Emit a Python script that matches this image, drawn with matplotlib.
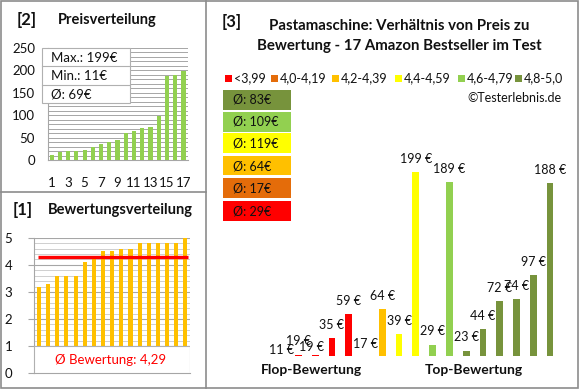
import numpy as np
import matplotlib.pyplot as plt
from matplotlib.patches import Rectangle
from matplotlib.lines import Line2D

plt.rcParams['font.family'] = ['Lato', 'DejaVu Sans']

# data
prices_sorted = [11, 17, 19, 19, 23, 29, 35, 39, 44, 59, 64, 72, 74, 97, 188, 189, 199]
ratings_sorted = [3.2, 3.3, 3.6, 3.6, 3.6, 4.1, 4.2, 4.5, 4.5, 4.6, 4.6, 4.8, 4.8, 4.8, 4.8, 4.8, 5.0]
avg_rating = 4.29
price_stats = ["Max.: 199€", "Min.: 11€", "Ø: 69€"]

# panel 3: products ordered by rating group
group_prices = [11, 19, 19, 35, 59, 17, 64, 39, 199, 29, 189, 23, 44, 72, 74, 97, 188]
group_index = [0, 0, 0, 0, 0, 1, 2, 3, 3, 4, 4, 5, 5, 5, 5, 5, 5]
group_names = ["<3,99", "4,0-4,19", "4,2-4,39", "4,4-4,59", "4,6-4,79", "4,8-5,0"]
group_avgs = [29, 17, 64, 119, 109, 83]

group_colors = ["#FF0000", "#E46C0A", "#FFC000", "#FFFF00", "#92D050", "#77933C"]
green = "#92D050"
orange = "#FFC000"
frame = "#8C8C8C"
ink = "#111111"

W, H = 580, 390
fig = plt.figure(figsize=(5.8, 3.9), dpi=100)


def fx(x):
    return x / W


def fy(y):
    return 1 - y / H


def ax_px(left, top, right, bottom):
    return fig.add_axes([fx(left), fy(bottom), (right - left) / W, (bottom - top) / H])


def ftext(x, y, s, **kw):
    kw.setdefault('color', ink)
    fig.text(fx(x), fy(y), s, **kw)


# panel frames
fig.add_artist(Rectangle((fx(1), fy(388)), 577 / W, 387 / H, transform=fig.transFigure,
                         fill=False, ec=frame, lw=1.2))
fig.add_artist(Line2D([fx(205.5), fx(205.5)], [fy(1), fy(388)], transform=fig.transFigure, color=frame, lw=1.2))
fig.add_artist(Line2D([fx(1), fx(205.5)], [fy(192), fy(192)], transform=fig.transFigure, color=frame, lw=1.2))

# ---------------- [2] Preisverteilung ----------------
ftext(27, 20, "[2]", fontsize=12, fontweight='bold', ha='center', va='center')
ftext(58, 20, "Preisverteilung", fontsize=10.5, fontweight='bold', ha='left', va='center')

ax2 = ax_px(47.5, 47.7, 187.6, 160)
n = len(prices_sorted)
xs = np.arange(1, n + 1)
ax2.bar(xs, prices_sorted, width=0.5, color=green, zorder=3)
ax2.set_xlim(0.5, n + 0.5)
ax2.set_ylim(0, 250)
ax2.set_yticks(np.arange(0, 251, 50))
ax2.set_yticks(np.arange(0, 251, 10), minor=True)
ax2.set_xticks(xs[::2])
ax2.grid(axis='y', which='both', color='#A6A6A6', lw=0.7, zorder=0)
for s in ['top', 'right']:
    ax2.spines[s].set_visible(False)
for s in ['left', 'bottom']:
    ax2.spines[s].set_color('#A6A6A6')
ax2.tick_params(axis='both', which='both', length=0, labelsize=9.5, labelcolor=ink)
ax2.tick_params(axis='y', pad=9)
ax2.tick_params(axis='x', pad=12)
ax2.patch.set_alpha(0)

# stats box
fig.add_artist(Rectangle((fx(42), fy(103)), 88 / W, 55 / H, transform=fig.transFigure,
                         fc='white', ec='#B0B0B0', lw=0.8, zorder=5))
for k, s in enumerate(price_stats):
    yc = 57.5 + k * 18.3
    ftext(51, yc, s, fontsize=9.5, ha='left', va='center', zorder=6)
    if k > 0:
        fig.add_artist(Line2D([fx(42), fx(130)], [fy(48 + k * 18.3)] * 2, transform=fig.transFigure,
                              color='#B0B0B0', lw=0.8, zorder=6))

# ---------------- [1] Bewertungsverteilung ----------------
ftext(23, 210, "[1]", fontsize=12, fontweight='bold', ha='center', va='center')
ftext(48, 210, "Bewertungsverteilung", fontsize=10.5, fontweight='bold', ha='left', va='center')

ax1 = ax_px(34.4, 237.7, 189.9, 373.3)
ax1.bar(xs, ratings_sorted, width=0.45, color=orange, zorder=3)
ax1.hlines(avg_rating, 0.85, 17.3, color='#FF0000', lw=2.4, zorder=4)
ax1.set_xlim(0.5, n + 0.5)
ax1.set_ylim(0, 5)
ax1.set_yticks(np.arange(0, 6, 1))
ax1.set_yticks(np.arange(0, 5.01, 0.2), minor=True)
ax1.set_xticks([])
ax1.grid(axis='y', which='major', color='#A6A6A6', lw=0.8, zorder=0)
ax1.grid(axis='y', which='minor', color='#C8C8C8', lw=0.6, zorder=0)
for s in ['top', 'right']:
    ax1.spines[s].set_visible(False)
for s in ['left', 'bottom']:
    ax1.spines[s].set_color('#A6A6A6')
ax1.tick_params(axis='y', which='major', length=4, color='#A6A6A6', labelsize=9.5, pad=12,
                labelcolor=ink)
ax1.tick_params(axis='y', which='minor', length=0)
ax1.add_patch(Rectangle((0, 0), 1, 0.205, transform=ax1.transAxes, fc='white', ec='#B0B0B0',
                        lw=0.8, zorder=5))
ax1.text(0.49, 0.1, "Ø Bewertung: 4,29", transform=ax1.transAxes, color='#FF0000', fontsize=9.5,
         ha='center', va='center', zorder=6)

# ---------------- [3] Preis zu Bewertung ----------------
ftext(232, 22, "[3]", fontsize=12, fontweight='bold', ha='center', va='center')
ftext(399, 26, "Pastamaschine: Verhältnis von Preis zu", fontsize=10.8, fontweight='bold',
      ha='center', va='center')
ftext(399, 46, "Bewertung - 17 Amazon Bestseller im Test", fontsize=10.8, fontweight='bold',
      ha='center', va='center')

# legend row
leg_x = [225, 271, 332, 395, 458, 515]
for k, name in enumerate(group_names):
    fig.add_artist(Rectangle((fx(leg_x[k]), fy(81.5)), 6.5 / W, 6.5 / H, transform=fig.transFigure,
                             fc=group_colors[k], ec='none'))
    ftext(leg_x[k] + 9, 78, name, fontsize=9, ha='left', va='center')

ftext(562, 98, "©Testerlebnis.de", fontsize=9, ha='right', va='center')

# average boxes (top = best group)
box_tops = [90, 112, 133.5, 156, 178.5, 201]
for k, gi in enumerate(range(len(group_names) - 1, -1, -1)):
    fig.add_artist(Rectangle((fx(223), fy(box_tops[k] + 19.5)), 68 / W, 19.5 / H,
                             transform=fig.transFigure, fc=group_colors[gi], ec='none'))
    ftext(233, box_tops[k] + 10, f"Ø: {group_avgs[gi]}€", fontsize=9, ha='left', va='center')

ax3 = ax_px(273.3, 150.5, 558.4, 355.7)
m = len(group_prices)
pos = np.arange(m)
cols = [group_colors[g] for g in group_index]
ax3.bar(pos, group_prices, width=0.4, color=cols)
ax3.set_xlim(-0.5, m - 0.5)
ax3.set_ylim(18, 220)
ax3.axis('off')
label_nudge = {2: (-3, -4)}
for i, v in enumerate(group_prices):
    dx, dy = label_nudge.get(i, (0, 0))
    ax3.annotate(f"{v} €", (i, v), xytext=(dx, 9.5 + dy), textcoords='offset points',
                 ha='center', va='center', fontsize=9, annotation_clip=False, color=ink)

ftext(311.7, 370, "Flop-Bewertung", fontsize=10, fontweight='bold', ha='center', va='center')
ftext(474, 370, "Top-Bewertung", fontsize=10, fontweight='bold', ha='center', va='center')

fig.savefig("out.png", dpi=100)
